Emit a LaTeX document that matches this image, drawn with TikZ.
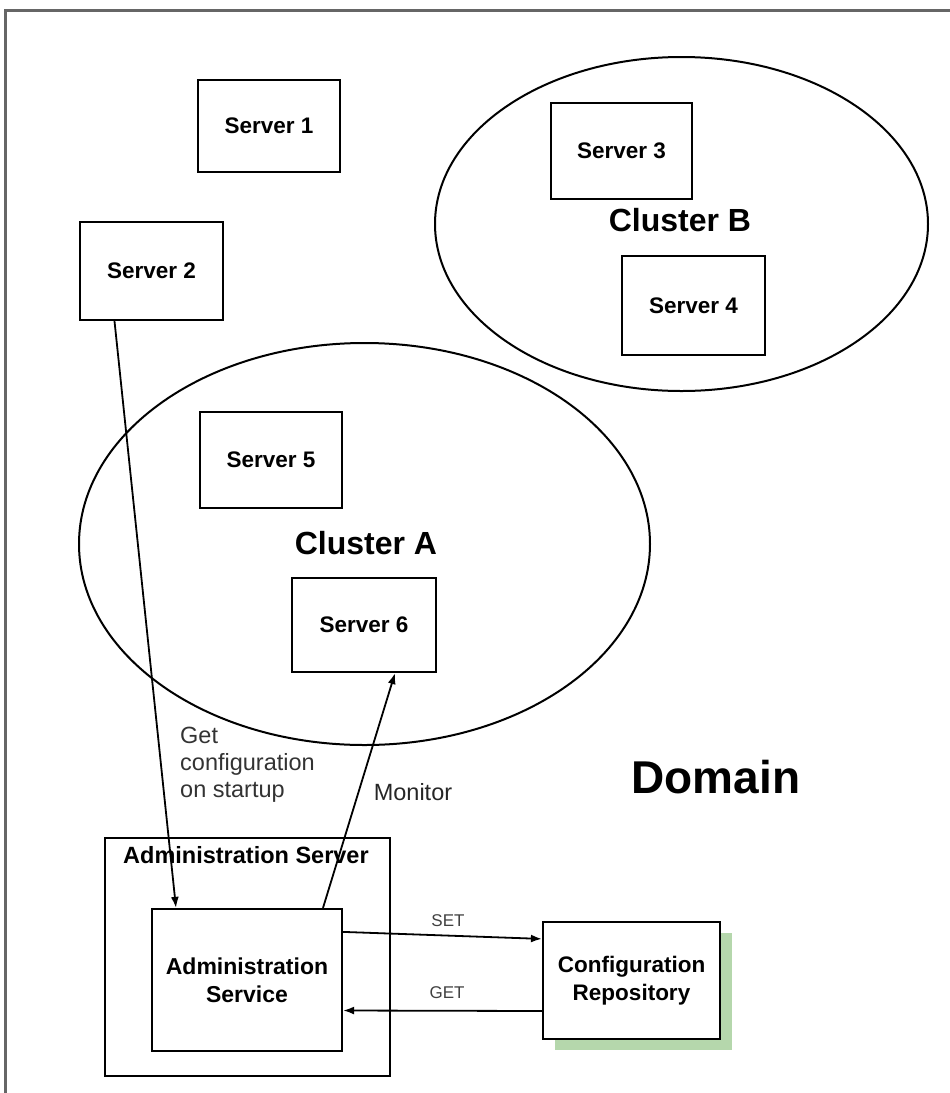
\documentclass[tikz,border=0pt]{standalone}
\usepackage{fontspec}
\setmainfont{Liberation Sans}
\usetikzlibrary{arrows.meta}
\definecolor{shadowgreen}{RGB}{181,215,172}
\tikzset{
  srv/.style={draw=black, line width=2.2pt, fill=white, inner sep=0pt, font=\fontsize{22.5}{27}\selectfont\bfseries},
  clus/.style={draw=black, line width=2pt},
  arr/.style={draw=black, line width=1.8pt, -{Latex[length=11pt,width=8pt]}},
  lbl/.style={inner sep=0pt, font=\fontsize{23.5}{27}\selectfont},
  small/.style={inner sep=0pt, font=\fontsize{17}{20}\selectfont, text=black!75},
}
\begin{document}
\begin{tikzpicture}[x=1pt,y=-1pt]
\useasboundingbox (0,0) rectangle (950,1093);
\begin{scope}
\clip (0,0) rectangle (950,1093);
\draw[line width=3pt, black!60] (5,10) rectangle (980,1120);
\end{scope}
% clusters
\draw[clus] (681.5,224) ellipse [x radius=246.5, y radius=167];
\draw[clus] (364.5,544) ellipse [x radius=285.5, y radius=201];
% servers
\node[srv, minimum width=142pt, minimum height=92pt] (s1) at (269,126) {Server 1};
\node[srv, minimum width=143pt, minimum height=98pt] (s2) at (151.5,271) {Server 2};
\node[srv, minimum width=141pt, minimum height=96pt] (s3) at (621.5,151) {Server 3};
\node[srv, minimum width=143pt, minimum height=99pt] (s4) at (693.5,305.5) {Server 4};
\node[srv, minimum width=142pt, minimum height=96pt] (s5) at (271,460) {Server 5};
\node[srv, minimum width=144pt, minimum height=94pt] (s6) at (364,625) {Server 6};
% cluster labels
\node[inner sep=0pt, font=\fontsize{32}{38}\selectfont\bfseries] (cb) at (680,220) {Cluster B};
\node[inner sep=0pt, font=\fontsize{32}{38}\selectfont\bfseries] (ca) at (366,543) {Cluster A};
\node[inner sep=0pt, font=\fontsize{46}{54}\selectfont\bfseries] (dom) at (716,777) {Domain};
% admin server
\node[srv, minimum width=285pt, minimum height=238pt] (asrv) at (247.5,957) {};
\node[inner sep=0pt, anchor=base west, font=\fontsize{23.5}{27}\selectfont\bfseries] (asrvl) at (123,863) {Administration Server};
\node[srv, minimum width=190pt, minimum height=142pt, align=center, font=\fontsize{23}{28}\selectfont\bfseries] (as) at (247,980) {Administration\\Service};
% config repository
\fill[shadowgreen] (555,933) rectangle (732,1050);
\node[srv, minimum width=177pt, minimum height=117pt, align=center, font=\fontsize{22.5}{28}\selectfont\bfseries] (cr) at (631.5,980.5) {Configuration\\Repository};
% labels
\node[lbl, anchor=north west, align=left, text=black!80] (getc) at (180,727) {Get\\configuration\\on startup};
\node[lbl, text=black!85] (mon) at (413,792) {Monitor};
\node[small] (setl) at (448,921) {SET};
\node[small] (getl) at (447,993) {GET};
% connectors
\draw[arr] ([xshift=-37pt]s2.south) -- ([xshift=-71pt]as.north);
\draw[arr] ([xshift=76pt]as.north) -- ([xshift=31pt]s6.south);
\draw[arr] ([yshift=-24pt]as.north east) -- ([yshift=-18pt]cr.north west);
\draw[arr] ([yshift=-30.5pt]cr.west) -- ([yshift=-30.5pt]as.east);
\end{tikzpicture}
\end{document}
